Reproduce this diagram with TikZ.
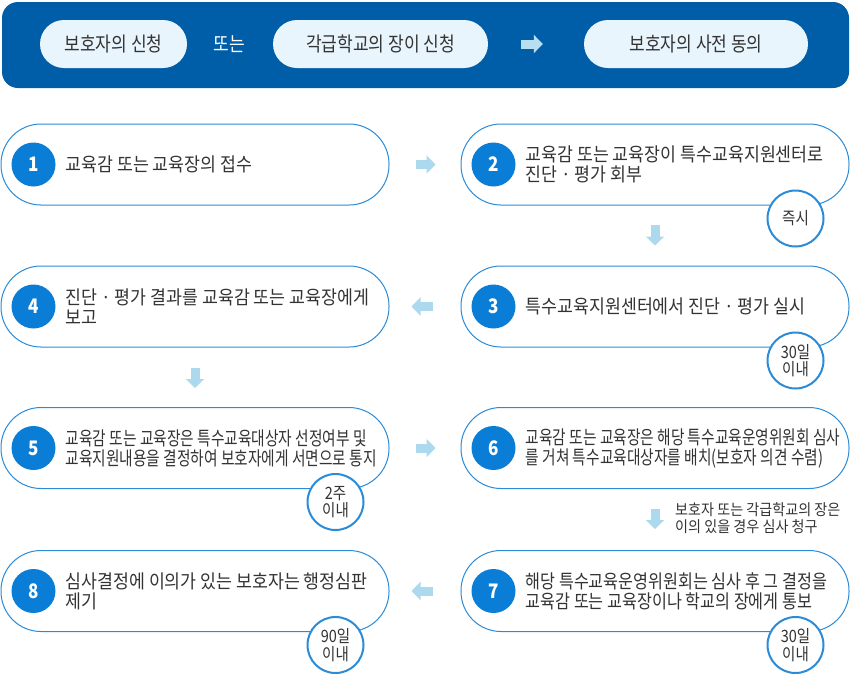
\documentclass[tikz,border=0pt]{standalone}
\usepackage{fontspec}
\setmainfont{Noto Sans CJK KR}[FakeStretch=0.853]
\newfontfamily\fontwide{Noto Sans CJK KR}[FakeStretch=0.91]
\newfontfamily\fontnarrow{Noto Sans CJK KR}[FakeStretch=0.775]
\usepackage{xcolor}
\usetikzlibrary{arrows.meta}

\definecolor{bannerblue}{HTML}{005DA8}
\definecolor{pillblue}{HTML}{E9F5FD}
\definecolor{stepblue}{HTML}{2A8BD8}
\definecolor{numblue}{HTML}{0A7ED6}
\definecolor{arrowblue}{HTML}{ACD9EE}
\definecolor{textgray}{HTML}{333333}

\begin{document}
\begin{tikzpicture}[x=1pt, y=-1pt,
    every node/.style={text=textgray, inner sep=0pt},
    pill/.style={fill=pillblue, rounded corners=24pt, minimum height=48pt, font=\fontsize{20}{22}\selectfont},
    stepbox/.style={draw=stepblue, line width=1pt, fill=white, rounded corners=40pt, minimum width=388pt, minimum height=81pt},
    numdot/.style={circle, fill=numblue, minimum size=44pt, text=white, font=\fontsize{20}{20}\selectfont\bfseries},
    steptext/.style={anchor=west, align=left, font=\fontsize{19}{20}\selectfont#1},
    timedot/.style={circle, draw=stepblue, line width=2pt, fill=white, minimum size=56pt, align=center, font=\fontsize{17}{17.5}\selectfont},
    flowarrow/.style={draw=arrowblue, line width=9pt, -{Triangle[width=18pt, length=9pt]}}]

    \useasboundingbox (0, 0) rectangle (851, 673);

    % banner
    \fill[bannerblue, rounded corners=16pt] (2, 2) rectangle (849, 88);
    \node[pill, minimum width=147pt] (p1) at (113.5, 44) {보호자의 신청};
    \node[text=white, font=\fontsize{20}{22}\selectfont] (or) at (229, 44) {또는};
    \node[pill, minimum width=215pt] (p2) at (380.5, 44) {각급학교의 장이 신청};
    \node[pill, minimum width=224pt] (p3) at (696, 44) {보호자의 사전 동의};
    \draw[flowarrow, draw=arrowblue!85!white] ([xshift=33pt]p2.east) -- ([xshift=-41pt]p3.west);

    % steps
    \node[stepbox] (s1) at (195, 164.5) {};
    \node[stepbox] (s2) at (655, 164.5) {};
    \node[stepbox] (s3) at (655, 306.5) {};
    \node[stepbox] (s4) at (195, 306.5) {};
    \node[stepbox] (s5) at (195, 448) {};
    \node[stepbox] (s6) at (655, 448) {};
    \node[stepbox] (s7) at (655, 591) {};
    \node[stepbox] (s8) at (195, 591) {};

    \foreach \i in {1,...,8}
        \node[numdot] (n\i) at ([xshift=33pt]s\i.west) {\i};

    \node[steptext=\fontwide] (t1) at ([xshift=65pt]s1.west) {교육감 또는 교육장의 접수};
    \node[steptext=\fontwide] (t2) at ([xshift=65pt]s2.west) {교육감 또는 교육장이 특수교육지원센터로\\진단 · 평가 회부};
    \node[steptext=\fontwide] (t3) at ([xshift=65pt]s3.west) {특수교육지원센터에서 진단 · 평가 실시};
    \node[steptext=\fontwide] (t4) at ([xshift=65pt]s4.west) {진단 · 평가 결과를 교육감 또는 교육장에게\\보고};
    \node[steptext=\fontnarrow] (t5) at ([xshift=65pt]s5.west) {교육감 또는 교육장은 특수교육대상자 선정여부 및\\교육지원내용을 결정하여 보호자에게 서면으로 통지};
    \node[steptext=\fontnarrow] (t6) at ([xshift=65pt]s6.west) {교육감 또는 교육장은 해당 특수교육운영위원회 심사\\를 거쳐 특수교육대상자를 배치(보호자 의견 수렴)};
    \node[steptext] (t7) at ([xshift=65pt]s7.west) {해당 특수교육운영위원회는 심사 후 그 결정을\\교육감 또는 교육장이나 학교의 장에게 통보};
    \node[steptext=\fontwide] (t8) at ([xshift=65pt]s8.west) {심사결정에 이의가 있는 보호자는 행정심판\\제기};

    % time limits
    \node[timedot] (d2) at ([xshift=-54pt, yshift=-13pt]s2.south east) {즉시};
    \node[timedot] (d3) at ([xshift=-54pt, yshift=-13pt]s3.south east) {30일\\이내};
    \node[timedot] (d5) at ([xshift=-54pt, yshift=-13pt]s5.south east) {2주\\이내};
    \node[timedot] (d7) at ([xshift=-54pt, yshift=-13pt]s7.south east) {30일\\이내};
    \node[timedot] (d8) at ([xshift=-54pt, yshift=-13pt]s8.south east) {90일\\이내};

    % flow
    \draw[flowarrow] ([xshift=26pt]s1.east) -- ([xshift=-25pt]s2.west);
    \draw[flowarrow] ([yshift=-19pt]s2.south) -- ([yshift=20pt]s3.north);
    \draw[flowarrow] ([xshift=-28pt]s3.west) -- ([xshift=22pt]s4.east);
    \draw[flowarrow] ([yshift=-20pt]s4.south) -- ([yshift=19pt]s5.north);
    \draw[flowarrow] ([xshift=26pt]s5.east) -- ([xshift=-25pt]s6.west);
    \draw[flowarrow] ([yshift=-20pt]s6.south) -- ([yshift=21pt]s7.north);
    \draw[flowarrow] ([xshift=-28pt]s7.west) -- ([xshift=22pt]s8.east);

    \node[anchor=west, align=left, font=\fontsize{15.5}{17.5}\fontwide] (appeal) at (675, 518) {보호자 또는 각급학교의 장은\\이의 있을 경우 심사 청구};
\end{tikzpicture}
\end{document}
